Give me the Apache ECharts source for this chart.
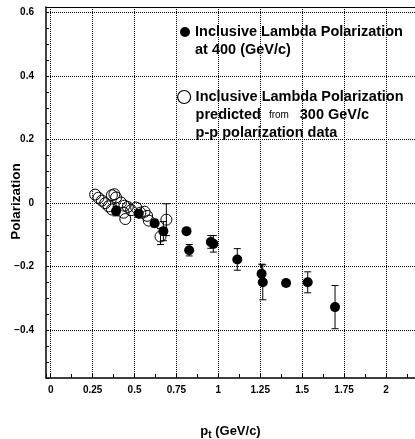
<!DOCTYPE html>
<html><head><meta charset="utf-8">
<script src="https://cdn.jsdelivr.net/npm/echarts@6/dist/echarts.min.js"></script>
<style>html,body{margin:0;padding:0;background:#fff}#c{width:415px;height:439px}</style>
</head><body><div id="c"></div>
<script>
// ---- data ----
const xTickLabels = ['0', '0.25', '0.5', '0.75', '1', '1.25', '1.5', '1.75', '2'];
const yTickLabels = ['-0.4', '-0.2', '0', '0.2', '0.4', '0.6'];

const measuredName = 'Inclusive Lambda Polarization at 400 (GeV/c)';
const measuredPt  = [0.39, 0.525, 0.62, 0.672, 0.81, 0.826, 0.955, 0.97, 1.113, 1.258, 1.265, 1.404, 1.533, 1.696];
const measuredPol = [-0.025, -0.033, -0.063, -0.088, -0.088, -0.148, -0.122, -0.128, -0.177, -0.222, -0.249, -0.251, -0.249, -0.327];
const measuredErr = [0.015, 0.01, 0.012, 0.03, 0.008, 0.018, 0.02, 0.026, 0.034, 0.03, 0.055, 0.01, 0.033, 0.068];

const predictedName = 'Inclusive Lambda Polarization predicted from 300 GeV/c p-p polarization data';
const predictedPt  = [0.265, 0.285, 0.305, 0.325, 0.345, 0.365, 0.38, 0.39, 0.365, 0.42, 0.44, 0.46, 0.435, 0.445, 0.48, 0.51, 0.535, 0.56, 0.575, 0.585, 0.69, 0.655];
const predictedPol = [0.027, 0.017, 0.008, 0.0, -0.01, 0.025, 0.028, 0.018, -0.02, 0.002, -0.008, -0.012, -0.03, -0.05, -0.022, -0.014, -0.03, -0.027, -0.04, -0.055, -0.052, -0.105];
const predictedErr = [0, 0, 0, 0, 0, 0, 0, 0, 0, 0, 0, 0, 0, 0, 0, 0, 0, 0, 0, 0, 0.05, 0.025];

// ---- build ----
const measuredData = measuredPt.map((x, i) => [x, measuredPol[i], measuredErr[i]]);
const predictedData = predictedPt.map((x, i) => [x, predictedPol[i], predictedErr[i]]);

function errRender(params, api) {
  const x = api.value(0), y = api.value(1), e = api.value(2);
  if (!e) return null;
  const a = api.coord([x, y + e]), b = api.coord([x, y - e]);
  const c = 3.5;
  const st = { stroke: '#000', lineWidth: 1 };
  return { type: 'group', children: [
    { type: 'line', shape: { x1: a[0], y1: a[1], x2: b[0], y2: b[1] }, style: st },
    { type: 'line', shape: { x1: a[0] - c, y1: a[1], x2: a[0] + c, y2: a[1] }, style: st },
    { type: 'line', shape: { x1: b[0] - c, y1: b[1], x2: b[0] + c, y2: b[1] }, style: st }
  ]};
}
function fmtTick(list) {
  return function (v) {
    const s = String(+Number(v).toFixed(3));
    return list.includes(s) ? s.replace('-', '\u2212') : '';
  };
}
const FONT = '"Liberation Sans", Arial, Helvetica, sans-serif';
const grid = '#000';
const legRich = {
  b: { fontFamily: FONT, fontSize: 14.5, fontWeight: 'bold', color: '#000', lineHeight: 18 },
  s: { fontFamily: FONT, fontSize: 10, fontWeight: 'normal', color: '#000', lineHeight: 18 }
};

const chart = echarts.init(document.getElementById('c'), null, { renderer: 'canvas' });
chart.setOption({
  animation: false,
  backgroundColor: '#fff',
  textStyle: { fontFamily: FONT, color: '#000' },
  grid: { left: 46, top: 7, right: 0, bottom: 61, containLabel: false, outerBoundsMode: 'none' },
  legend: [
    {
      data: [measuredName], left: 175, top: 0, orient: 'vertical', selectedMode: false,
      icon: 'circle', itemWidth: 10, itemHeight: 10,
      itemStyle: { color: '#000', borderWidth: 0 },
      formatter: () => '{b|Inclusive Lambda Polarization}\n{b|at 400 (GeV/c)}',
      textStyle: { fontFamily: FONT, fontSize: 14.5, fontWeight: 'bold', color: '#000', lineHeight: 18, padding: [18, 0, 0, 0], rich: legRich }
    },
    {
      data: [predictedName], left: 172, top: 47, orient: 'vertical', selectedMode: false,
      icon: 'circle', itemWidth: 13, itemHeight: 13,
      itemStyle: { color: 'rgba(255,255,255,0)', borderColor: '#000', borderWidth: 1.2 },
      formatter: () => '{b|Inclusive Lambda Polarization}\n{b|predicted  }{s|from }{b|  300 GeV/c}\n{b|p-p polarization data}',
      textStyle: { fontFamily: FONT, fontSize: 14.5, fontWeight: 'bold', color: '#000', lineHeight: 18, padding: [36, 0, 0, 0], rich: legRich }
    }
  ],
  xAxis: [
    {
      type: 'value', min: -0.028, max: 2.173, minInterval: 0.125, maxInterval: 0.125,
      position: 'bottom',
      name: '{p|p}{t|t}{p| (GeV/c)}', nameLocation: 'middle', nameGap: 44, nameMoveOverlap: false,
      nameTextStyle: {
        rich: {
          p: { fontFamily: FONT, fontSize: 13, fontWeight: 'bold', color: '#000' },
          t: { fontFamily: FONT, fontSize: 10, fontWeight: 'bold', color: '#000', padding: [8, 0, 0, 0] }
        }
      },
      axisLine: { show: true, onZero: false, lineStyle: { color: '#000', width: 1.5 } },
      axisTick: { show: true, inside: true, length: 4, lineStyle: { color: '#000', width: 1 } },
      axisLabel: { show: true, margin: 7, fontFamily: FONT, fontSize: 10, fontWeight: 'bold', color: '#000', formatter: fmtTick(xTickLabels), showMinLabel: true, showMaxLabel: true, hideOverlap: false },
      splitLine: { show: true, showMinLine: true, showMaxLine: false, lineStyle: { color: ['rgba(0,0,0,0)', grid], type: 'dotted', width: 1 } }
    },
    {
      type: 'value', min: -0.028, max: 2.173, position: 'top',
      axisLine: { show: true, onZero: false, lineStyle: { color: '#000', width: 1.2 } },
      axisTick: { show: false }, axisLabel: { show: false }, splitLine: { show: false }
    }
  ],
  yAxis: [
    {
      type: 'value', min: -0.55, max: 0.617, minInterval: 0.05, maxInterval: 0.05,
      position: 'left',
      name: 'Polarization', nameLocation: 'middle', nameGap: 23, nameMoveOverlap: false,
      nameTextStyle: { fontFamily: FONT, fontSize: 13.5, fontWeight: 'bold', color: '#000', padding: [0, 18, 0, 0] },
      axisLine: { show: true, onZero: false, lineStyle: { color: '#000', width: 1.5 } },
      axisTick: { show: true, inside: true, length: 3, lineStyle: { color: '#000', width: 1 } },
      axisLabel: { show: true, margin: 12, fontFamily: FONT, fontSize: 10, fontWeight: 'bold', color: '#000', formatter: fmtTick(yTickLabels), showMinLabel: true, showMaxLabel: true, hideOverlap: false },
      splitLine: { show: true, showMinLine: true, showMaxLine: true, lineStyle: { color: ['rgba(0,0,0,0)', 'rgba(0,0,0,0)', 'rgba(0,0,0,0)', grid], type: 'dotted', width: 1 } }
    }
  ],
  series: [
    { type: 'custom', name: 'mErr', renderItem: errRender, data: measuredData, encode: { x: 0, y: 1 }, z: 2, silent: true },
    { type: 'custom', name: 'pErr', renderItem: errRender, data: predictedData, encode: { x: 0, y: 1 }, z: 2, silent: true },
    {
      type: 'scatter', name: measuredName, data: measuredData, symbol: 'circle', symbolSize: 10, z: 3,
      itemStyle: { color: '#000', opacity: 1 }, emphasis: { disabled: true }
    },
    {
      type: 'scatter', name: predictedName, data: predictedData, symbol: 'circle', symbolSize: 11, z: 4,
      itemStyle: { color: 'rgba(255,255,255,0)', borderColor: '#000', borderWidth: 1, opacity: 1 }, emphasis: { disabled: true }
    }
  ]
});
</script>
</body></html>
